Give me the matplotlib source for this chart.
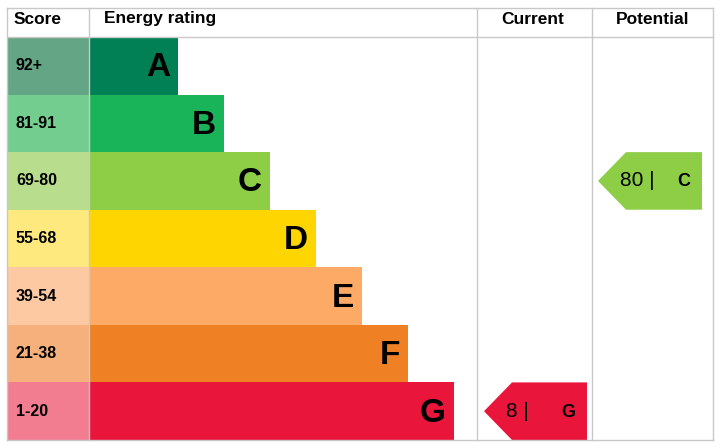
import matplotlib
matplotlib.use("Agg")
import matplotlib.pyplot as plt
from matplotlib.patches import Polygon, Rectangle

ratings = ["A", "B", "C", "D", "E", "F", "G"]
scores = ["92+", "81-91", "69-80", "55-68", "39-54", "21-38", "1-20"]
bar_colors = ["#008054", "#19b459", "#8dce46", "#ffd500", "#fcaa65", "#ef8023", "#e9153b"]
score_colors = ["#64a585", "#72cd8e", "#b8de8d", "#fde97e", "#fdc9a2", "#f5b07c", "#f27d91"]
current_value, current_rating = 8, "G"
potential_value, potential_rating = 80, "C"

fig = plt.figure(figsize=(7.28, 4.48), dpi=100)
ax = fig.add_axes([0, 0, 1, 1])
ax.set_xlim(0, 728); ax.set_ylim(448, 0); ax.axis("off")

top, hdr, rowh = 8, 37, 57.57
left, sc_r, cur_l, pot_l, right = 7, 89, 477, 592, 713
bottom = hdr + 7 * rowh
lc = "#c8c8c8"
for x in (left, sc_r, cur_l, pot_l, right):
    ax.plot([x, x], [top, bottom], color=lc, lw=1)
for y in (top, hdr, bottom):
    ax.plot([left, right], [y, y], color=lc, lw=1)

fp = dict(family="Liberation Sans", weight="bold")
ax.text(14, 19, "Score", fontsize=12.5, va="center", **fp)
ax.text(104, 19, "Energy rating", fontsize=12.5, va="center", **fp)
ax.text(533, 19, "Current", fontsize=12.5, va="center", ha="center", **fp)
ax.text(653, 19, "Potential", fontsize=12.5, va="center", ha="center", **fp)

for i, (r, s) in enumerate(zip(ratings, scores)):
    y0 = hdr + i * rowh
    ax.add_patch(Rectangle((left, y0), sc_r - left, rowh, color=score_colors[i], lw=0))
    ax.text(16, y0 + rowh / 2, s, fontsize=11.5, va="center", **fp)
    end = 178 + 46 * i
    ax.add_patch(Rectangle((sc_r, y0), end - sc_r, rowh, color=bar_colors[i], lw=0))
    ax.text(end - 8, y0 + rowh / 2 + 2, r, fontsize=24, va="center", ha="right", **fp)

def arrow(x0, x1, idx, val, rat):
    y0 = hdr + idx * rowh; y1 = y0 + rowh; ym = (y0 + y1) / 2
    tip = 28
    ax.add_patch(Polygon([(x0, ym), (x0 + tip, y0), (x1, y0), (x1, y1), (x0 + tip, y1)],
                         closed=True, color=bar_colors[idx], lw=0))
    ax.text(x0 + 22, ym, f"{val} |", fontsize=15, va="center", ha="left", family="Liberation Sans")
    ax.text(x1 - 12, ym + 1, rat, fontsize=13, va="center", ha="right", **fp)

arrow(484, 587, ratings.index(current_rating), current_value, current_rating)
arrow(598, 702, ratings.index(potential_rating), potential_value, potential_rating)

fig.savefig("out.png", dpi=100)
